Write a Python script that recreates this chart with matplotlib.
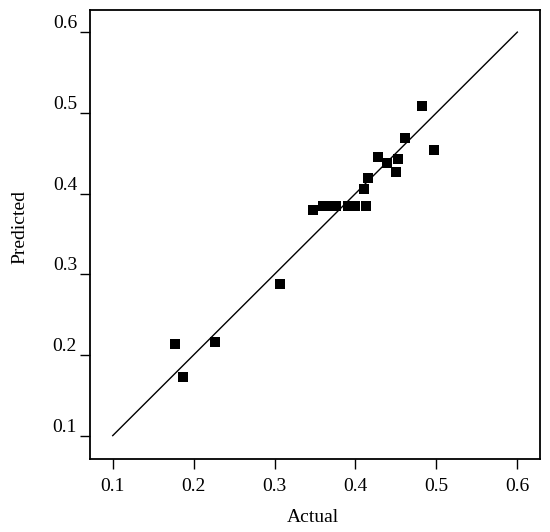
import matplotlib
matplotlib.use("Agg")
import matplotlib.pyplot as plt

actual = [0.177, 0.187, 0.226, 0.307, 0.348, 0.360, 0.368, 0.376, 0.391, 0.400,
          0.413, 0.411, 0.415, 0.428, 0.4395, 0.452, 0.450, 0.461, 0.482, 0.497]
predicted = [0.214, 0.173, 0.216, 0.288, 0.379, 0.385, 0.385, 0.385, 0.385, 0.385,
             0.385, 0.406, 0.419, 0.445, 0.438, 0.4425, 0.427, 0.4685, 0.508, 0.454]
line_x = [0.1, 0.6]
line_y = [0.1, 0.6]
ticks = [0.1, 0.2, 0.3, 0.4, 0.5, 0.6]
tick_labels = ["0.1", "0.2", "0.3", "0.4", "0.5", "0.6"]

plt.rcParams['font.family'] = ['Liberation Serif', 'DejaVu Serif']

fig = plt.figure(figsize=(5.5, 5.32), dpi=100)
ax = fig.add_axes([0.1642, 0.1372, 0.8176, 0.8449])

ax.plot(line_x, line_y, color='black', lw=1.0, zorder=2)
ax.scatter(actual, predicted, marker='s', s=52, color='black', linewidths=0, zorder=3)

ax.set_xlim(0.0723, 0.628)
ax.set_ylim(0.071, 0.628)
ax.set_xticks(ticks)
ax.set_xticklabels(tick_labels)
ax.set_yticks(ticks)
ax.set_yticklabels(tick_labels)

for sp in ax.spines.values():
    sp.set_linewidth(1.3)
    sp.set_color('black')

ax.tick_params(axis='both', direction='out', length=7.5, width=1.0, color='black',
               labelsize=14, labelcolor='black')
ax.tick_params(axis='x', pad=6.5)
ax.tick_params(axis='y', pad=2)
for lbl in ax.get_yticklabels():
    lbl.set_va('bottom')

ax.set_xlabel('Actual', fontsize=14)
ax.set_ylabel('Predicted', fontsize=14)
ax.xaxis.set_label_coords(0.495, -0.111)
ax.yaxis.set_label_coords(-0.138, 0.516)

fig.savefig('out.png', dpi=100)
